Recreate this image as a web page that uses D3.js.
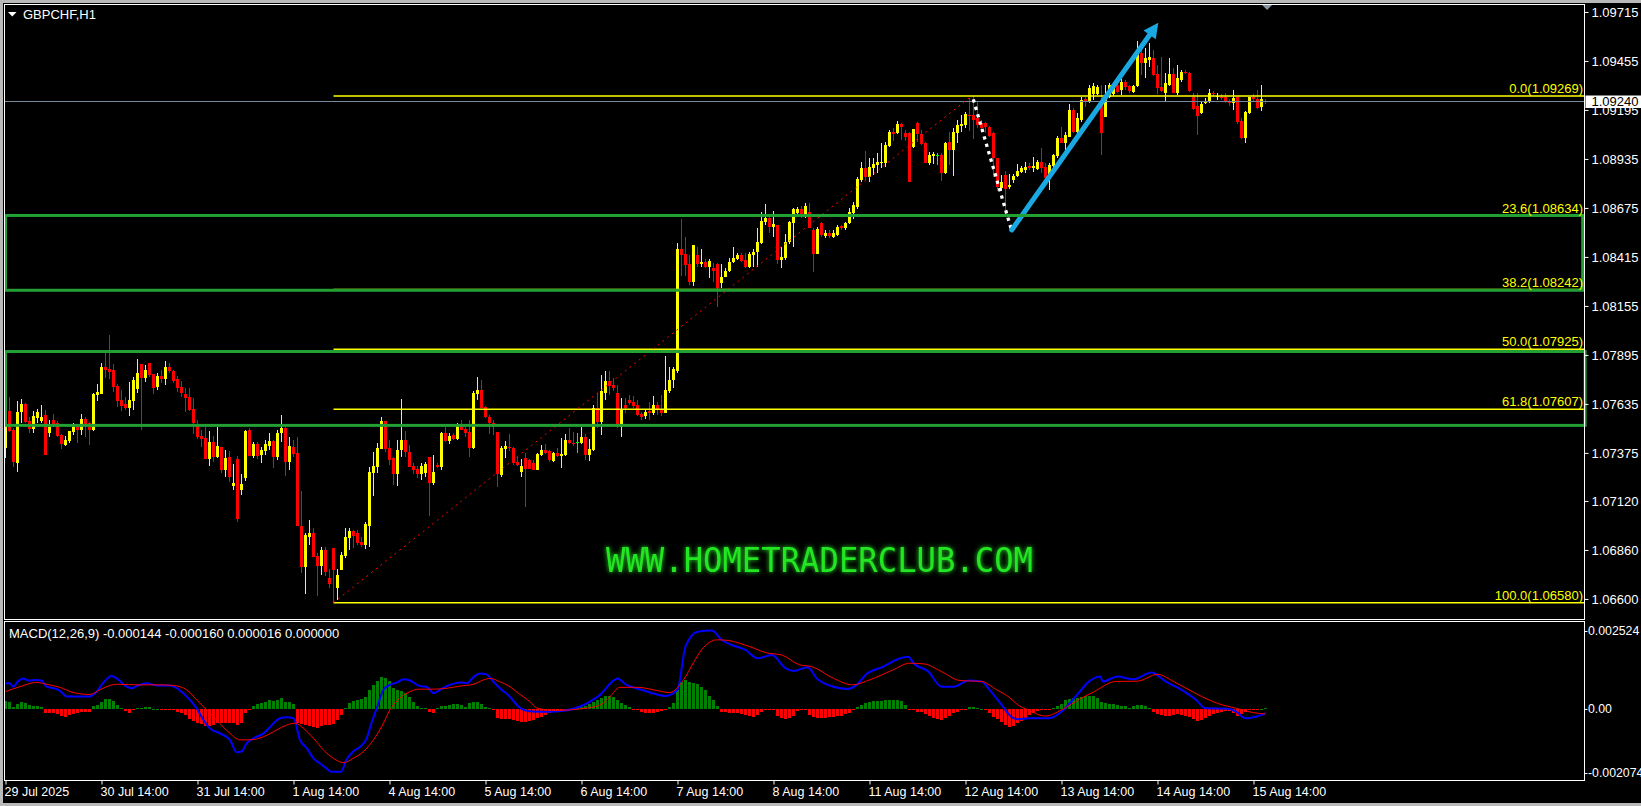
<!DOCTYPE html>
<html><head><meta charset="utf-8">
<script src="https://cdn.jsdelivr.net/npm/d3@7"></script>
<style>html,body{margin:0;padding:0;background:#000;overflow:hidden}</style>
</head><body><svg id="chart"></svg>
<script>
// ---------------- DATA ----------------
const chartTitle = "GBPCHF,H1";
const macdTitle = "MACD(12,26,9) -0.000144 -0.000160 0.000016 0.000000";
const watermark = "WWW.HOMETRADERCLUB.COM";

const candleOpen = [
1.07401,1.07598,1.07497,1.07321,1.07592,1.07635,1.07545,1.07502,1.07561,1.07545,
1.07576,1.07481,1.07550,1.07534,1.07470,1.07417,1.07438,1.07486,1.07513,1.07497,
1.07555,1.07534,1.07497,1.07682,1.07688,1.07831,1.07820,1.07815,1.07730,1.07656,
1.07635,1.07613,1.07651,1.07714,1.07847,1.07773,1.07852,1.07794,1.07725,1.07783,
1.07767,1.07831,1.07810,1.07767,1.07725,1.07688,1.07672,1.07608,1.07529,1.07465,
1.07454,1.07343,1.07433,1.07353,1.07406,1.07284,1.07353,1.07199,1.07343,1.07178,
1.07242,1.07497,1.07358,1.07422,1.07363,1.07385,1.07411,1.07438,1.07353,1.07481,
1.07508,1.07326,1.07406,1.07374,1.06987,1.06770,1.06929,1.06950,1.06828,1.06775,
1.06860,1.06711,1.06870,1.06658,1.06754,1.06828,1.06924,1.06961,1.06950,1.06902,
1.06886,1.06987,1.07268,1.07300,1.07396,1.07545,1.07401,1.07348,1.07263,1.07390,
1.07443,1.07379,1.07305,1.07289,1.07263,1.07268,1.07353,1.07215,1.07310,1.07300,
1.07481,1.07438,1.07470,1.07449,1.07518,1.07502,1.07486,1.07401,1.07688,1.07709,
1.07619,1.07566,1.07534,1.07486,1.07257,1.07396,1.07406,1.07401,1.07326,1.07273,
1.07348,1.07337,1.07321,1.07284,1.07363,1.07390,1.07385,1.07332,1.07374,1.07358,
1.07363,1.07443,1.07427,1.07433,1.07427,1.07460,1.07363,1.07390,1.07613,1.07539,
1.07693,1.07757,1.07735,1.07693,1.07513,1.07629,1.07656,1.07645,1.07629,1.07582,
1.07571,1.07598,1.07587,1.07629,1.07603,1.07587,1.07704,1.07762,1.07810,1.08457,
1.08431,1.08378,1.08282,1.08426,1.08378,1.08388,1.08362,1.08356,1.08378,1.08277,
1.08309,1.08341,1.08388,1.08404,1.08426,1.08399,1.08362,1.08426,1.08442,1.08489,
1.08601,1.08622,1.08574,1.08585,1.08399,1.08410,1.08495,1.08595,1.08648,1.08669,
1.08643,1.08654,1.08558,1.08431,1.08595,1.08527,1.08542,1.08521,1.08532,1.08580,
1.08569,1.08595,1.08648,1.08680,1.08823,1.08887,1.08839,1.08887,1.08903,1.08913,
1.08913,1.09004,1.09078,1.09073,1.09121,1.09073,1.09073,1.08998,1.09126,1.09068,
1.09020,1.08913,1.08950,1.08956,1.08956,1.08860,1.09025,1.08983,1.09073,1.09110,
1.09115,1.09168,1.09168,1.09153,1.09126,1.09126,1.09105,1.09073,1.08940,1.08781,
1.08850,1.08786,1.08823,1.08845,1.08866,1.08876,1.08897,1.08887,1.08881,1.08919,
1.08892,1.08850,1.08897,1.08950,1.09046,1.09020,1.09052,1.09195,1.09078,1.09142,
1.09253,1.09237,1.09280,1.09280,1.09237,1.09158,1.09264,1.09280,1.09327,1.09301,
1.09343,1.09322,1.09290,1.09322,1.09497,1.09444,1.09460,1.09471,1.09386,1.09317,
1.09285,1.09327,1.09386,1.09285,1.09354,1.09396,1.09391,1.09264,1.09216,1.09179,
1.09232,1.09237,1.09285,1.09264,1.09264,1.09264,1.09243,1.09232,1.09264,1.09136,
1.09046,1.09179,1.09264,1.09253,1.09211,1.09243];

const candleHigh = [
1.07545,1.07672,1.07508,1.07651,1.07661,1.07640,1.07566,1.07598,1.07608,1.07629,
1.07603,1.07550,1.07582,1.07545,1.07476,1.07465,1.07492,1.07534,1.07529,1.07582,
1.07566,1.07539,1.07693,1.07741,1.07852,1.07905,1.08000,1.07847,1.07741,1.07709,
1.07672,1.07751,1.07778,1.07873,1.07847,1.07841,1.07852,1.07794,1.07799,1.07815,
1.07863,1.07852,1.07815,1.07783,1.07757,1.07720,1.07720,1.07667,1.07550,1.07497,
1.07513,1.07492,1.07465,1.07513,1.07406,1.07390,1.07385,1.07316,1.07358,1.07263,
1.07497,1.07508,1.07433,1.07433,1.07406,1.07443,1.07481,1.07443,1.07497,1.07576,
1.07518,1.07460,1.07443,1.07460,1.07173,1.06950,1.07019,1.06977,1.06844,1.06876,
1.06876,1.06759,1.06870,1.06759,1.06850,1.06977,1.06977,1.06966,1.06966,1.06929,
1.07008,1.07300,1.07379,1.07427,1.07566,1.07545,1.07443,1.07353,1.07443,1.07661,
1.07492,1.07417,1.07321,1.07305,1.07321,1.07326,1.07353,1.07363,1.07321,1.07486,
1.07513,1.07481,1.07481,1.07534,1.07550,1.07523,1.07550,1.07704,1.07778,1.07762,
1.07624,1.07576,1.07550,1.07486,1.07411,1.07438,1.07476,1.07406,1.07353,1.07343,
1.07374,1.07343,1.07337,1.07374,1.07417,1.07422,1.07390,1.07379,1.07401,1.07454,
1.07476,1.07508,1.07486,1.07481,1.07513,1.07476,1.07449,1.07629,1.07693,1.07788,
1.07810,1.07810,1.07773,1.07735,1.07667,1.07667,1.07682,1.07677,1.07656,1.07592,
1.07608,1.07645,1.07677,1.07645,1.07682,1.07889,1.07831,1.07831,1.08489,1.08616,
1.08521,1.08426,1.08479,1.08468,1.08457,1.08404,1.08404,1.08383,1.08383,1.08378,
1.08356,1.08410,1.08468,1.08436,1.08436,1.08436,1.08442,1.08457,1.08569,1.08654,
1.08696,1.08643,1.08659,1.08585,1.08468,1.08537,1.08606,1.08675,1.08680,1.08685,
1.08701,1.08701,1.08569,1.08574,1.08601,1.08558,1.08558,1.08558,1.08585,1.08585,
1.08601,1.08675,1.08707,1.08839,1.08919,1.08977,1.08940,1.08940,1.08966,1.09019,
1.09025,1.09089,1.09099,1.09136,1.09126,1.09089,1.09078,1.09094,1.09131,1.09089,
1.09025,1.08972,1.08972,1.08966,1.08966,1.09025,1.09078,1.09099,1.09142,1.09168,
1.09184,1.09259,1.09269,1.09237,1.09142,1.09131,1.09110,1.09078,1.08940,1.08850,
1.08871,1.08855,1.08855,1.08908,1.08897,1.08919,1.08913,1.08945,1.08929,1.08993,
1.08913,1.08913,1.08961,1.09057,1.09105,1.09078,1.09227,1.09206,1.09179,1.09264,
1.09264,1.09327,1.09338,1.09327,1.09327,1.09327,1.09338,1.09343,1.09343,1.09359,
1.09354,1.09327,1.09327,1.09561,1.09550,1.09524,1.09550,1.09513,1.09433,1.09476,
1.09391,1.09471,1.09417,1.09433,1.09407,1.09407,1.09396,1.09285,1.09285,1.09237,
1.09259,1.09306,1.09296,1.09285,1.09280,1.09285,1.09253,1.09301,1.09264,1.09153,
1.09189,1.09264,1.09280,1.09301,1.09327,1.09253];

const candleLow = [
1.07348,1.07486,1.07300,1.07273,1.07534,1.07534,1.07481,1.07481,1.07534,1.07534,
1.07363,1.07460,1.07513,1.07460,1.07396,1.07411,1.07427,1.07470,1.07427,1.07470,
1.07460,1.07417,1.07492,1.07651,1.07688,1.07773,1.07767,1.07698,1.07619,1.07598,
1.07603,1.07571,1.07603,1.07693,1.07497,1.07751,1.07778,1.07688,1.07709,1.07746,
1.07735,1.07799,1.07746,1.07698,1.07672,1.07592,1.07598,1.07476,1.07449,1.07406,
1.07343,1.07305,1.07326,1.07348,1.07268,1.07247,1.07220,1.07178,1.07008,1.07152,
1.07226,1.07358,1.07348,1.07343,1.07321,1.07363,1.07390,1.07295,1.07337,1.07433,
1.07252,1.07284,1.07353,1.06987,1.06738,1.06626,1.06886,1.06823,1.06616,1.06727,
1.06722,1.06658,1.06580,1.06594,1.06754,1.06817,1.06860,1.06870,1.06886,1.06876,
1.06865,1.06876,1.07146,1.07268,1.07396,1.07379,1.07310,1.07204,1.07199,1.07353,
1.07353,1.07300,1.07263,1.07242,1.07231,1.07247,1.07040,1.07204,1.07295,1.07284,
1.07433,1.07422,1.07443,1.07443,1.07497,1.07460,1.07353,1.07396,1.07656,1.07613,
1.07561,1.07476,1.07470,1.07194,1.07247,1.07348,1.07385,1.07310,1.07305,1.07247,
1.07088,1.07289,1.07284,1.07284,1.07358,1.07369,1.07326,1.07326,1.07353,1.07295,
1.07358,1.07422,1.07411,1.07374,1.07422,1.07337,1.07332,1.07385,1.07508,1.07470,
1.07656,1.07682,1.07704,1.07508,1.07460,1.07587,1.07629,1.07613,1.07571,1.07550,
1.07555,1.07550,1.07576,1.07576,1.07571,1.07587,1.07693,1.07720,1.07799,1.08314,
1.08314,1.08266,1.08261,1.08362,1.08362,1.08356,1.08304,1.08282,1.08149,1.08250,
1.08309,1.08335,1.08383,1.08399,1.08388,1.08356,1.08356,1.08362,1.08362,1.08484,
1.08585,1.08542,1.08521,1.08378,1.08356,1.08399,1.08484,1.08468,1.08638,1.08622,
1.08622,1.08569,1.08335,1.08431,1.08521,1.08516,1.08516,1.08516,1.08527,1.08558,
1.08558,1.08590,1.08616,1.08669,1.08813,1.08823,1.08813,1.08850,1.08860,1.08887,
1.08892,1.08998,1.09030,1.09068,1.09036,1.09030,1.08813,1.08993,1.09025,1.09009,
1.08913,1.08903,1.08908,1.08903,1.08818,1.08855,1.08903,1.08845,1.09020,1.09078,
1.09099,1.09083,1.09041,1.09099,1.09078,1.09073,1.09052,1.08839,1.08765,1.08765,
1.08664,1.08775,1.08807,1.08839,1.08860,1.08860,1.08876,1.08866,1.08876,1.08860,
1.08823,1.08770,1.08892,1.08940,1.09020,1.08972,1.09052,1.09073,1.09073,1.09131,
1.09211,1.09232,1.09248,1.09274,1.08956,1.09158,1.09259,1.09269,1.09285,1.09274,
1.09301,1.09285,1.09285,1.09317,1.09380,1.09364,1.09423,1.09375,1.09280,1.09290,
1.09237,1.09322,1.09285,1.09274,1.09343,1.09386,1.09290,1.09195,1.09062,1.09174,
1.09227,1.09232,1.09264,1.09248,1.09248,1.09232,1.09216,1.09195,1.09121,1.09041,
1.09020,1.09174,1.09243,1.09200,1.09189,1.09227];

const candleClose = [
1.07534,1.07492,1.07326,1.07592,1.07635,1.07539,1.07502,1.07571,1.07592,1.07566,
1.07363,1.07513,1.07529,1.07465,1.07422,1.07443,1.07492,1.07513,1.07497,1.07555,
1.07529,1.07497,1.07688,1.07698,1.07831,1.07815,1.07804,1.07725,1.07651,1.07624,
1.07613,1.07656,1.07762,1.07799,1.07773,1.07815,1.07788,1.07720,1.07783,1.07767,
1.07831,1.07810,1.07757,1.07720,1.07693,1.07667,1.07603,1.07534,1.07460,1.07449,
1.07343,1.07433,1.07353,1.07411,1.07284,1.07348,1.07247,1.07215,1.07024,1.07210,
1.07492,1.07358,1.07422,1.07358,1.07390,1.07422,1.07438,1.07353,1.07481,1.07508,
1.07326,1.07411,1.07369,1.06987,1.06770,1.06940,1.06950,1.06823,1.06775,1.06860,
1.06743,1.06680,1.06754,1.06727,1.06834,1.06929,1.06961,1.06934,1.06897,1.06886,
1.06998,1.07273,1.07305,1.07401,1.07545,1.07396,1.07337,1.07263,1.07390,1.07443,
1.07379,1.07300,1.07284,1.07263,1.07305,1.07316,1.07215,1.07273,1.07300,1.07481,
1.07438,1.07465,1.07449,1.07518,1.07497,1.07481,1.07401,1.07693,1.07709,1.07613,
1.07566,1.07534,1.07529,1.07263,1.07401,1.07411,1.07401,1.07321,1.07310,1.07305,
1.07289,1.07289,1.07284,1.07369,1.07390,1.07374,1.07337,1.07374,1.07358,1.07369,
1.07443,1.07427,1.07422,1.07433,1.07460,1.07363,1.07396,1.07613,1.07539,1.07704,
1.07757,1.07730,1.07720,1.07529,1.07603,1.07613,1.07640,1.07624,1.07576,1.07566,
1.07592,1.07587,1.07629,1.07603,1.07587,1.07709,1.07762,1.07820,1.08457,1.08426,
1.08372,1.08282,1.08479,1.08378,1.08388,1.08362,1.08394,1.08341,1.08250,1.08309,
1.08341,1.08388,1.08410,1.08426,1.08394,1.08362,1.08431,1.08442,1.08495,1.08606,
1.08622,1.08574,1.08590,1.08399,1.08415,1.08495,1.08601,1.08669,1.08669,1.08638,
1.08685,1.08569,1.08431,1.08564,1.08532,1.08542,1.08527,1.08542,1.08574,1.08569,
1.08595,1.08654,1.08691,1.08829,1.08887,1.08839,1.08892,1.08908,1.08919,1.08919,
1.09009,1.09078,1.09068,1.09121,1.09105,1.09052,1.08813,1.09094,1.09068,1.09015,
1.08913,1.08956,1.08961,1.08956,1.08860,1.09020,1.08983,1.09078,1.09115,1.09121,
1.09174,1.09163,1.09142,1.09115,1.09099,1.09105,1.09057,1.08940,1.08786,1.08813,
1.08775,1.08797,1.08845,1.08871,1.08887,1.08892,1.08887,1.08897,1.08919,1.08887,
1.08834,1.08903,1.08956,1.09046,1.09020,1.09062,1.09195,1.09078,1.09153,1.09248,
1.09237,1.09311,1.09322,1.09317,1.09073,1.09264,1.09327,1.09311,1.09290,1.09343,
1.09317,1.09296,1.09322,1.09497,1.09444,1.09471,1.09476,1.09380,1.09311,1.09296,
1.09338,1.09386,1.09285,1.09364,1.09396,1.09391,1.09296,1.09200,1.09163,1.09227,
1.09243,1.09285,1.09280,1.09269,1.09259,1.09237,1.09232,1.09259,1.09131,1.09046,
1.09184,1.09264,1.09253,1.09206,1.09253,1.09240];

const macdHistogram = [
0.00026,0.00024,0.00005,0.00016,0.00023,0.00018,0.00012,0.00010,0.00010,0.00005,
-0.00012,-0.00012,-0.00014,-0.00016,-0.00023,-0.00025,-0.00019,-0.00016,-0.00014,-0.00009,
-0.00009,-0.00009,0.00008,0.00013,0.00024,0.00032,0.00032,0.00026,0.00012,0.00003,
-0.00008,-0.00012,-0.00003,0.00003,0.00004,0.00005,0.00005,0.00001,0.00001,-0.00004,
-0.00002,-0.00002,-0.00003,-0.00009,-0.00014,-0.00019,-0.00033,-0.00038,-0.00044,-0.00049,
-0.00055,-0.00055,-0.00052,-0.00046,-0.00044,-0.00044,-0.00044,-0.00044,-0.00052,-0.00044,
-0.00014,-0.00002,0.00010,0.00016,0.00018,0.00023,0.00029,0.00026,0.00029,0.00036,
0.00024,0.00023,0.00016,-0.00046,-0.00049,-0.00052,-0.00055,-0.00059,-0.00062,-0.00055,
-0.00053,-0.00052,-0.00049,-0.00036,-0.00019,0.00004,0.00018,0.00026,0.00029,0.00031,
0.00040,0.00062,0.00078,0.00092,0.00103,0.00100,0.00089,0.00069,0.00062,0.00058,
0.00051,0.00040,0.00023,0.00010,0.00004,0.00002,-0.00009,-0.00012,0.00003,0.00008,
0.00011,0.00012,0.00015,0.00015,0.00014,0.00005,0.00018,0.00024,0.00022,0.00016,
0.00005,0.00002,-0.00005,-0.00028,-0.00032,-0.00033,-0.00033,-0.00036,-0.00040,-0.00041,
-0.00041,-0.00039,-0.00036,-0.00030,-0.00025,-0.00019,-0.00014,-0.00009,-0.00006,-0.00004,
-0.00003,-0.00002,-0.00001,0.00003,0.00006,0.00008,0.00015,0.00022,0.00030,0.00035,
0.00042,0.00042,0.00038,0.00029,0.00020,0.00013,0.00005,-0.00002,-0.00003,-0.00009,
-0.00012,-0.00012,-0.00012,-0.00010,-0.00006,-0.00003,0.00005,0.00018,0.00061,0.00088,
0.00094,0.00087,0.00085,0.00080,0.00070,0.00060,0.00042,0.00029,0.00010,-0.00009,
-0.00010,-0.00012,-0.00012,-0.00014,-0.00016,-0.00020,-0.00023,-0.00025,-0.00019,-0.00009,
-0.00003,-0.00002,-0.00003,-0.00023,-0.00030,-0.00033,-0.00030,-0.00022,-0.00008,-0.00003,
-0.00005,-0.00019,-0.00027,-0.00030,-0.00030,-0.00028,-0.00027,-0.00025,-0.00024,-0.00022,
-0.00016,-0.00012,-0.00005,0.00005,0.00012,0.00018,0.00023,0.00026,0.00027,0.00027,
0.00028,0.00029,0.00029,0.00029,0.00027,0.00013,-0.00003,-0.00005,-0.00009,-0.00009,
-0.00016,-0.00022,-0.00028,-0.00033,-0.00036,-0.00030,-0.00022,-0.00014,-0.00009,-0.00005,
-0.00002,0.00005,0.00005,0.00002,0.00001,-0.00005,-0.00014,-0.00025,-0.00032,-0.00041,
-0.00052,-0.00057,-0.00055,-0.00047,-0.00038,-0.00028,-0.00018,-0.00012,-0.00008,-0.00004,
-0.00003,-0.00003,0.00002,0.00009,0.00016,0.00028,0.00033,0.00035,0.00035,0.00038,
0.00041,0.00042,0.00042,0.00035,0.00022,0.00018,0.00017,0.00015,0.00013,0.00010,
0.00008,0.00004,0.00010,0.00013,0.00013,0.00010,0.00003,-0.00010,-0.00016,-0.00019,
-0.00023,-0.00023,-0.00019,-0.00016,-0.00018,-0.00022,-0.00027,-0.00033,-0.00038,-0.00036,
-0.00030,-0.00023,-0.00016,-0.00012,-0.00009,-0.00007,-0.00006,-0.00014,-0.00023,-0.00016,
-0.00009,-0.00005,-0.00003,-0.00001,0.00001,0.00002];

// [bar index, value] readings of the MACD main (blue) and signal (red) lines
const macdMain = [[0,0.00083],[1,0.00083],[2,0.00072],[3,0.00088],[4.5,0.00099],[5.7,0.00092],[7.8,0.00094],[9,0.00092],[10.3,0.00072],[12,0.00067],[13.6,0.00059],[15.3,0.00040],[17.8,0.00040],[21.1,0.00040],[22.8,0.00056],[24.5,0.00086],[26.5,0.00107],[27.8,0.00099],[30.3,0.00072],[31.5,0.00067],[32.8,0.00074],[35.3,0.00083],[37.8,0.00076],[41.1,0.00076],[42.8,0.00067],[45.3,0.00040],[47.8,0.00002],[49.5,-0.00036],[51.1,-0.00063],[53.6,-0.00079],[56.1,-0.00100],[57.8,-0.00140],[59,-0.00138],[60.3,-0.00111],[62,-0.00095],[64.5,-0.00079],[66.1,-0.00059],[68.6,-0.00030],[70.3,-0.00027],[72,-0.00030],[73.6,-0.00100],[75.3,-0.00127],[77,-0.00160],[78.6,-0.00176],[80,-0.00190],[81.5,-0.00203],[83.9,-0.00203],[85.2,-0.00165],[86.9,-0.00138],[88.5,-0.00124],[90.3,-0.00095],[91.5,-0.00046],[92.8,0.00002],[94.5,0.00062],[96.1,0.00078],[97.8,0.00085],[99.5,0.00096],[101.1,0.00092],[103.6,0.00074],[105.3,0.00072],[107,0.00051],[108.6,0.00062],[111.1,0.00078],[113.6,0.00086],[115.3,0.00083],[117,0.00103],[118.6,0.00115],[120.3,0.00112],[122,0.00088],[123.6,0.00067],[126.1,0.00040],[128.2,0.00008],[130,-0.00005],[133,-0.00009],[136,-0.00009],[139,-0.00007],[143.7,0.00008],[147.5,0.00035],[149,0.00050],[151,0.00080],[153,0.00099],[155,0.00080],[159,0.00062],[162,0.00050],[165,0.00042],[168,0.00062],[170,0.00202],[173,0.00250],[176.6,0.00254],[179,0.00224],[181.6,0.00207],[185,0.00191],[188,0.00164],[191.6,0.00175],[195,0.00132],[197,0.00123],[200.5,0.00135],[202.8,0.00099],[207,0.00072],[210.6,0.00065],[212.8,0.00078],[215,0.00110],[219.5,0.00137],[223,0.00161],[225.7,0.00169],[227,0.00148],[230.7,0.00121],[234,0.00072],[237,0.00072],[240.8,0.00092],[244,0.00089],[246,0.00062],[249.7,0.00002],[251,-0.00020],[253,-0.00033],[256,-0.00030],[260.8,-0.00030],[264,-0.00009],[267.5,0.00040],[271,0.00090],[273.7,0.00105],[274.3,0.00089],[278,0.00105],[282,0.00096],[286.5,0.00118],[290,0.00089],[294,0.00062],[297.7,0.00029],[300,0.00002],[305.5,0.00001],[307.7,-0.00009],[310,-0.00030],[312,-0.00027],[315,-0.000144]];

const macdSignal = [[0,0.00056],[3.6,0.00072],[7.8,0.00086],[10.3,0.00080],[13.6,0.00070],[17,0.00053],[21.1,0.00047],[23.6,0.00062],[26.1,0.00076],[27.8,0.00080],[33.6,0.00078],[38.6,0.00078],[42,0.00076],[45.3,0.00062],[47.8,0.00029],[50.3,-0.00003],[52.8,-0.00036],[56.1,-0.00079],[58.6,-0.00100],[61.1,-0.00100],[64.5,-0.00090],[67.8,-0.00068],[70.3,-0.00052],[72.4,-0.00046],[74.5,-0.00063],[77,-0.00095],[79.5,-0.00133],[82,-0.00160],[84.6,-0.00174],[86.9,-0.00160],[89.5,-0.00138],[92,-0.00100],[94.5,-0.00046],[96.1,-0.00003],[98.6,0.00035],[101.1,0.00056],[103.6,0.00064],[107,0.00064],[110.3,0.00067],[113.6,0.00074],[117,0.00080],[119.5,0.00094],[121.1,0.00099],[123.6,0.00088],[126.1,0.00072],[128.2,0.00051],[131,0.00025],[133,0.00002],[138,-0.00005],[142.7,-0.00001],[147.5,0.00008],[149,0.00015],[151,0.00038],[153.6,0.00070],[158,0.00070],[162,0.00062],[166,0.00053],[169.5,0.00094],[172,0.00150],[174,0.00191],[178,0.00224],[181,0.00221],[186,0.00202],[190.5,0.00181],[194,0.00175],[198.5,0.00143],[201.6,0.00137],[207,0.00099],[211.8,0.00078],[216,0.00094],[221.8,0.00126],[226,0.00148],[229.6,0.00146],[234,0.00121],[238.6,0.00092],[244,0.00089],[247.8,0.00062],[251,0.00037],[253,0.00014],[255.6,-0.00003],[260,-0.00023],[264,-0.00003],[269,0.00035],[272,0.00055],[277.6,0.00089],[283,0.00090],[288,0.00112],[292,0.00089],[297.7,0.00049],[303,0.00018],[307.7,0.00002],[312,-0.00012],[315,-0.00016]];

const timeLabels = ["29 Jul 2025","30 Jul 14:00","31 Jul 14:00","1 Aug 14:00","4 Aug 14:00","5 Aug 14:00","6 Aug 14:00","7 Aug 14:00","8 Aug 14:00","11 Aug 14:00","12 Aug 14:00","13 Aug 14:00","14 Aug 14:00","15 Aug 14:00"];
const timeLabelBars = [0,24,48,72,96,120,144,168,192,216,240,264,288,312];
const priceTicks = [1.09715,1.09455,1.09195,1.08935,1.08675,1.08415,1.08155,1.07895,1.07635,1.07375,1.07120,1.06860,1.06600];
const macdTicks = [0.002524,0,-0.002074];
const macdTickLabels = ["0.002524","0.00","-0.002074"];

const fibLevels = ["0.0","23.6","38.2","50.0","61.8","100.0"];
const fibPrices = [1.09269,1.08634,1.08242,1.07925,1.07607,1.06580];
const fibStartBar = 82;

const zoneStartBar = [0,0];
const zoneEndBar = [394.3,394.9];
const zoneTop = [1.08635,1.07913];
const zoneBottom = [1.08238,1.07521];

const trendLine = [[82,1.06580],[241.5,1.09269]];      // red dotted
const dropLine = [[241.95,1.09251],[251.55,1.08554]];   // white dotted
const riseArrow = [[251.55,1.08558],[288.2,1.09658]];   // blue arrow
const currentPrice = 1.09240;
const shiftMarkBar = 315.4;

// ---------------- DRAWING ----------------
const W = 1641, H = 806;
const plotL = 4.5, plotR = 1584.5, mainT = 4.5, mainB = 619.5, macdT = 621.5, macdB = 780.5;
const FONT = "'Liberation Sans', Arial, sans-serif";
const svg = d3.select("#chart").attr("width", W).attr("height", H);

const x = d3.scaleLinear().domain([0, 315]).range([5.5, 5.5 + 4 * 315]);
const y = d3.scaleLinear().domain([1.06580, 1.09269]).range([602.7, 96]);
const ym = d3.scaleLinear().domain([-0.002074, 0.002524]).range([773, 631]);

svg.append("rect").attr("width", W).attr("height", H).attr("fill", "#b9b9b9");
svg.append("rect").attr("x", 3).attr("y", 3).attr("width", W - 3).attr("height", H - 6).attr("fill", "#000");

const defs = svg.append("defs");
defs.append("clipPath").attr("id", "clipMain").append("rect")
  .attr("x", plotL + 0.5).attr("y", mainT + 0.5).attr("width", plotR - plotL - 1).attr("height", mainB - mainT - 1);
defs.append("clipPath").attr("id", "clipMacd").append("rect")
  .attr("x", plotL + 0.5).attr("y", macdT + 0.5).attr("width", plotR - plotL - 1).attr("height", macdB - macdT - 1);
const glow = defs.append("filter").attr("id", "glow").attr("x", "-10%").attr("y", "-60%").attr("width", "120%").attr("height", "220%");
glow.append("feGaussianBlur").attr("in", "SourceGraphic").attr("stdDeviation", 2.5).attr("result", "b");
const gm = glow.append("feMerge");
gm.append("feMergeNode").attr("in", "b");
gm.append("feMergeNode").attr("in", "SourceGraphic");

// ---- main panel ----
const main = svg.append("g").attr("clip-path", "url(#clipMain)");
const bars = candleOpen.map((o, i) => ({ i, o, h: candleHigh[i], l: candleLow[i], c: candleClose[i] }));
const candleColor = d => d.c > d.o ? "#ffff00" : (d.c < d.o ? "#ff0000" : "#00ff00");
const gc = main.append("g").attr("shape-rendering", "crispEdges");
gc.selectAll("rect.wick").data(bars).join("rect").attr("class", "wick")
  .attr("x", d => x(d.i) - 0.5).attr("width", 1)
  .attr("y", d => y(d.h)).attr("height", d => Math.max(1, y(d.l) - y(d.h)))
  .attr("fill", candleColor);
gc.selectAll("rect.body").data(bars).join("rect").attr("class", "body")
  .attr("x", d => x(d.i) - 1.5).attr("width", 3)
  .attr("y", d => y(Math.max(d.o, d.c))).attr("height", d => Math.max(1, Math.abs(y(d.o) - y(d.c))))
  .attr("fill", candleColor);

// fibonacci lines
const fib = fibLevels.map((lv, k) => ({ lv, p: fibPrices[k] }));
main.selectAll("line.fib").data(fib).join("line").attr("class", "fib")
  .attr("x1", x(fibStartBar)).attr("x2", plotR).attr("y1", d => y(d.p)).attr("y2", d => y(d.p))
  .attr("stroke", "#ffff00").attr("stroke-width", 1.4);

// green zones
const zones = zoneTop.map((t, k) => ({ s: zoneStartBar[k], e: zoneEndBar[k], t, b: zoneBottom[k] }));
svg.selectAll("rect.zone").data(zones).join("rect").attr("class", "zone")
  .attr("x", d => x(d.s)).attr("width", d => x(d.e) - x(d.s))
  .attr("y", d => y(d.t)).attr("height", d => y(d.b) - y(d.t))
  .attr("fill", "none").attr("stroke", "#22a034").attr("stroke-width", 3);

// fib labels
svg.selectAll("text.fibl").data(fib).join("text").attr("class", "fibl")
  .attr("x", plotR - 1.5).attr("y", d => y(d.p) - 3).attr("text-anchor", "end")
  .attr("font-family", FONT).attr("font-size", 13).attr("fill", "#ffff00")
  .text(d => `${d.lv}(${d.p.toFixed(5)})`);

// current price line
main.append("line").attr("x1", plotL).attr("x2", plotR)
  .attr("y1", Math.round(y(currentPrice)) + 0.5).attr("y2", Math.round(y(currentPrice)) + 0.5)
  .attr("stroke", "#778899").attr("stroke-width", 1);

// red dotted trend line
main.append("line")
  .attr("x1", x(trendLine[0][0])).attr("y1", y(trendLine[0][1]))
  .attr("x2", x(trendLine[1][0])).attr("y2", y(trendLine[1][1]))
  .attr("stroke", "#ff0000").attr("stroke-width", 1).attr("stroke-dasharray", "2,4");

// white dotted drop line
main.append("line")
  .attr("x1", x(dropLine[0][0])).attr("y1", y(dropLine[0][1]))
  .attr("x2", x(dropLine[1][0])).attr("y2", y(dropLine[1][1]))
  .attr("stroke", "#ffffff").attr("stroke-width", 3.3).attr("stroke-dasharray", "3.3,4.4");

// blue arrow
{
  const x0 = x(riseArrow[0][0]), y0 = y(riseArrow[0][1]);
  const x1 = x(riseArrow[1][0]), y1 = y(riseArrow[1][1]);
  const L = Math.hypot(x1 - x0, y1 - y0), ux = (x1 - x0) / L, uy = (y1 - y0) / L;
  const hl = 15, hw = 7.5;
  const bx = x1 - ux * hl, by = y1 - uy * hl;
  main.append("line").attr("x1", x0).attr("y1", y0).attr("x2", bx + ux * 2).attr("y2", by + uy * 2)
    .attr("stroke", "#1aa8e2").attr("stroke-width", 5).attr("stroke-linecap", "round");
  main.append("polygon")
    .attr("points", [[x1, y1], [bx - uy * hw, by + ux * hw], [bx + uy * hw, by - ux * hw]].map(p => p.join(",")).join(" "))
    .attr("fill", "#1aa8e2");
}

// watermark
main.append("text").attr("x", 819.5).attr("y", 572).attr("text-anchor", "middle")
  .attr("font-family", "'DejaVu Sans Mono', monospace").attr("font-size", 33)
  .attr("textLength", 427).attr("lengthAdjust", "spacingAndGlyphs")
  .attr("fill", "#22e622").attr("filter", "url(#glow)").text(watermark);

// ---- MACD panel ----
const macd = svg.append("g").attr("clip-path", "url(#clipMacd)");
macd.append("g").attr("shape-rendering", "crispEdges").selectAll("rect").data(macdHistogram).join("rect")
  .attr("x", (d, i) => x(i) - 1.5).attr("width", 3)
  .attr("y", d => Math.min(ym(0), ym(d))).attr("height", d => Math.max(1, Math.abs(ym(d) - ym(0))))
  .attr("fill", d => d >= 0 ? "#008000" : "#ff0000");
const lineGen = d3.line().x(d => x(d[0])).y(d => ym(d[1])).curve(d3.curveMonotoneX);
macd.append("path").attr("d", lineGen(macdMain)).attr("fill", "none").attr("stroke", "#0000ff").attr("stroke-width", 2);
macd.append("path").attr("d", lineGen(macdSignal)).attr("fill", "none").attr("stroke", "#ff0000").attr("stroke-width", 1);

// ---- borders ----
svg.append("rect").attr("x", plotL).attr("y", mainT).attr("width", plotR - plotL).attr("height", mainB - mainT)
  .attr("fill", "none").attr("stroke", "#fff").attr("stroke-width", 1);
svg.append("rect").attr("x", plotL).attr("y", macdT).attr("width", plotR - plotL).attr("height", macdB - macdT)
  .attr("fill", "none").attr("stroke", "#fff").attr("stroke-width", 1);

// ---- axes ----
function styleAxis(g, size) {
  g.select(".domain").remove();
  g.selectAll(".tick line").attr("stroke", "#fff");
  g.selectAll(".tick text").attr("fill", "#fff").attr("font-family", FONT).attr("font-size", size);
}
const gy = svg.append("g").attr("transform", `translate(${plotR},0)`)
  .call(d3.axisRight(y).tickValues(priceTicks).tickFormat(d3.format(".5f")).tickSize(4));
styleAxis(gy, 13);
const gym = svg.append("g").attr("transform", `translate(${plotR},0)`)
  .call(d3.axisRight(ym).tickValues(macdTicks).tickFormat((d, k) => macdTickLabels[k]).tickSize(3));
styleAxis(gym, 12.3);
gym.selectAll(".tick text").attr("x", 3.5);
const gx = svg.append("g").attr("transform", `translate(0,${macdB})`)
  .call(d3.axisBottom(x).tickValues(timeLabelBars).tickFormat((d, k) => timeLabels[k]).tickSize(4));
styleAxis(gx, 12.5);
gx.selectAll(".tick text").attr("text-anchor", "start").attr("x", -1.5);

// current price tag
const cpY = Math.round(y(currentPrice)) + 0.5;
svg.append("rect").attr("x", plotR + 1).attr("y", cpY - 6).attr("width", W - plotR - 1).attr("height", 12.5).attr("fill", "#fff");
svg.append("text").attr("x", plotR + 7).attr("y", cpY).attr("dy", "0.35em")
  .attr("font-family", FONT).attr("font-size", 13).attr("fill", "#000").text(currentPrice.toFixed(5));

// chart shift marker
svg.append("polygon").attr("points", `${x(shiftMarkBar) - 5},5 ${x(shiftMarkBar) + 5},5 ${x(shiftMarkBar)},10`).attr("fill", "#8796a4");

// titles
svg.append("polygon").attr("points", "8,12 16.5,12 12.25,16.5").attr("fill", "#fff");
svg.append("text").attr("x", 23).attr("y", 19).attr("font-family", FONT).attr("font-size", 13).attr("fill", "#fff").text(chartTitle);
svg.append("text").attr("x", 9).attr("y", 637.5).attr("font-family", FONT).attr("font-size", 13).attr("fill", "#fff").text(macdTitle);
</script>
</body></html>
